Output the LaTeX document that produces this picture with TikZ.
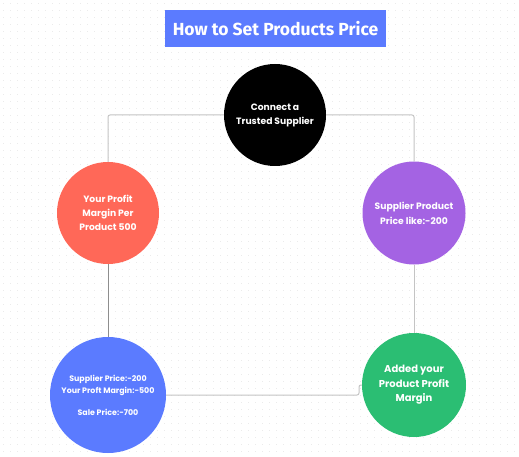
\documentclass[tikz,border=0pt]{standalone}
\usepackage{fontspec}
\setmainfont{Poppins}
\newfontfamily\headfont{Fira Sans}
\usetikzlibrary{positioning}

\definecolor{titleblue}{HTML}{5B7BFF}
\definecolor{coral}{HTML}{FF6858}
\definecolor{violet}{HTML}{A463E3}
\definecolor{royal}{HTML}{5B7BFF}
\definecolor{mint}{HTML}{2BBE73}
\definecolor{linegray}{HTML}{C4C4C4}
\definecolor{linedark}{HTML}{8E8E8E}
\definecolor{dotgray}{HTML}{EBEBEB}

\begin{document}
\begin{tikzpicture}[
    x=1pt, y=-1pt,
    % GLOBAL CFG
    font=\bfseries,
    % Styles
    heading/.style={% For the title box
        rectangle,
        fill=titleblue,
        text=white,
        font=\headfont\bfseries\fontsize{17.5}{20}\selectfont,
        minimum width=221pt,
        minimum height=37pt,
        inner sep=0pt,
        },
    stage/.style={% For the circles
        circle,
        text=white,
        align=center,
        inner sep=0pt,
        minimum size=102pt,
        font=\bfseries\fontsize{9.2}{14}\selectfont,
        },
    link/.style={% Connectors between the circles
        draw=linegray,
        line width=1pt,
        rounded corners=2pt,
        },
    ]

% Canvas with the faint dot grid
\useasboundingbox (0,0) rectangle (519,457);
\fill[white] (0,0) rectangle (519,457);
\foreach \i in {3,10,...,518}
    \foreach \j in {3,10,...,456}
        \fill[dotgray] (\i,\j) rectangle +(1,1);

% Title
\node[heading] (title) at (275.5, 28.5) {How to Set Products Price};

% The steps
\node[stage, fill=black] (supplier) at (275, 115) {Connect a\\Trusted Supplier};
\node[stage, fill=violet, minimum size=103pt, font=\bfseries\fontsize{9.2}{15}\selectfont] (price) at (414, 213) {Supplier Product\\Price like:-200};
\node[stage, fill=mint, minimum size=104pt, font=\bfseries\fontsize{10}{14.5}\selectfont] (added) at (414, 385) {Added your\\Product Profit\\Margin};
\node[stage, fill=royal, minimum size=116pt, font=\bfseries\fontsize{7.9}{12}\selectfont] (sale) at (108, 395) {Supplier Price:-200\\Your Proft Margin:-500\\[10pt]Sale Price:-700};
\node[stage, fill=coral] (margin) at (108, 213) {Your Profit\\Margin Per\\Product 500};

% Connect them
\coordinate (bend) at (359, 385);
\draw[link] (margin.north) |- (supplier.west);
\draw[link] (supplier.east) -| (price.north);
\draw[link] (price.south) -- (added.north);
\draw[link] (sale.east) -| (bend) -- (added.west);
\draw[link, draw=linedark] (margin.south) -- (sale.north);

\end{tikzpicture}
\end{document}
